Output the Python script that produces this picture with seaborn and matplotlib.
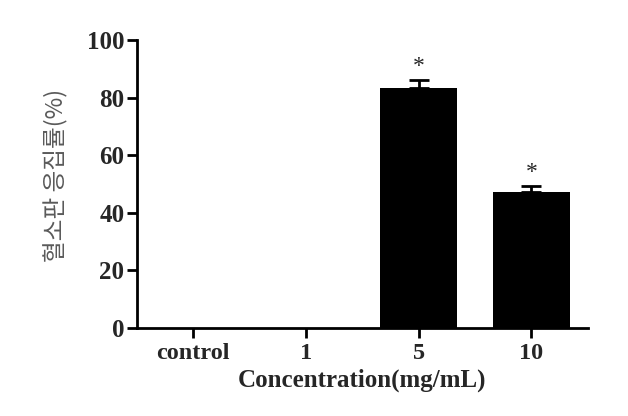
import matplotlib
matplotlib.use("Agg")
import matplotlib.pyplot as plt
import seaborn as sns
import pandas as pd

categories = ["control", "1", "5", "10"]
values = [0.0, 0.0, 83.3, 47.2]
errors = [0.0, 0.0, 2.8, 2.0]
signif = ["", "", "*", "*"]
yticks = [0, 20, 40, 60, 80, 100]

sns.set_style("ticks")
plt.rcParams["font.family"] = ["Liberation Serif", "DejaVu Serif"]

df = pd.DataFrame({"cat": categories, "val": values})

fig = plt.figure(figsize=(6.28, 4.16), dpi=100)
ax = fig.add_axes([0.218, 0.2115, 0.718, 0.6925])

sns.barplot(data=df, x="cat", y="val", color="black", width=0.68,
            edgecolor="black", linewidth=0, ax=ax, errorbar=None)

xs = range(len(categories))
for x, v, e, s in zip(xs, values, errors, signif):
    if e > 0:
        ax.errorbar([x], [v], yerr=[[0], [e]], fmt="none", ecolor="black",
                    elinewidth=2, capsize=7, capthick=2)
    if s:
        ax.text(x, v + e + 1.0, s, ha="center", va="bottom", fontsize=17,
                family=["Liberation Serif"])

ax.set_xlim(-0.5, 3.5)
ax.set_ylim(0, 100)
ax.set_yticks(yticks)
ax.set_yticklabels([str(t) for t in yticks], fontsize=18, fontweight="bold")
ax.set_xticks(list(xs))
ax.set_xticklabels(categories, fontsize=17.5, fontweight="bold")
ax.set_xlabel("Concentration(mg/mL)", fontsize=18, fontweight="bold", labelpad=3)
ax.set_ylabel("혈소판 응집률(%)", fontsize=17, color="#5a5a5a",
              family=["Noto Sans CJK KR", "DejaVu Sans"])
ax.yaxis.set_label_coords(-0.152, 0.53)

for sp in ["left", "bottom"]:
    ax.spines[sp].set_linewidth(2)
    ax.spines[sp].set_color("black")
sns.despine(ax=ax)
ax.tick_params(axis="both", width=2, length=7, color="black", direction="out")
ax.tick_params(axis="x", pad=4)
ax.tick_params(axis="y", pad=2)

fig.savefig("out.png", dpi=100)
